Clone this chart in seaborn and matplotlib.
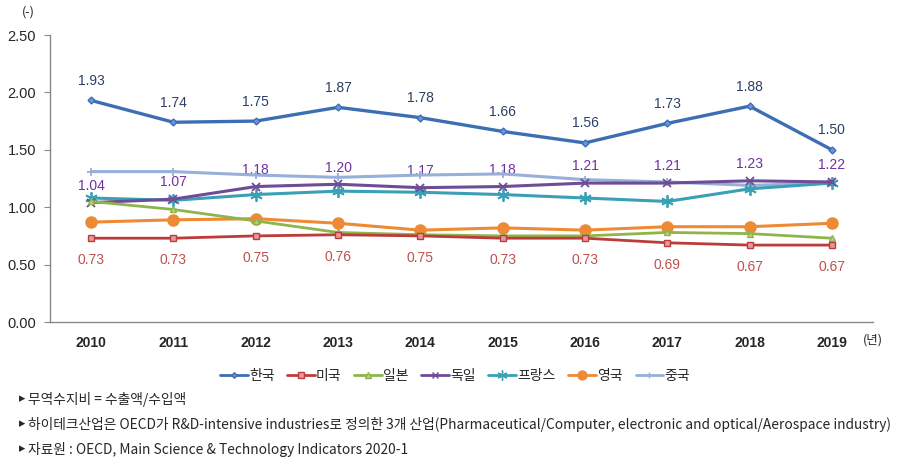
import matplotlib
matplotlib.use("Agg")
import matplotlib.pyplot as plt
import seaborn as sns
import pandas as pd
import numpy as np
from matplotlib.lines import Line2D

years = ["2010", "2011", "2012", "2013", "2014", "2015", "2016", "2017", "2018", "2019"]
korea = [1.93, 1.74, 1.75, 1.87, 1.78, 1.66, 1.56, 1.73, 1.88, 1.50]
usa = [0.73, 0.73, 0.75, 0.76, 0.75, 0.73, 0.73, 0.69, 0.67, 0.67]
japan = [1.05, 0.98, 0.88, 0.78, 0.76, 0.75, 0.75, 0.78, 0.77, 0.73]
germany = [1.04, 1.07, 1.18, 1.20, 1.17, 1.18, 1.21, 1.21, 1.23, 1.22]
france = [1.08, 1.06, 1.11, 1.14, 1.13, 1.11, 1.08, 1.05, 1.16, 1.21]
uk = [0.87, 0.89, 0.90, 0.86, 0.80, 0.82, 0.80, 0.83, 0.83, 0.86]
china = [1.31, 1.31, 1.28, 1.26, 1.28, 1.29, 1.24, 1.22, 1.19, 1.21]

names = ["한국", "미국", "일본", "독일", "프랑스", "영국", "중국"]
series = [korea, usa, japan, germany, france, uk, china]
yticks = [0.0, 0.5, 1.0, 1.5, 2.0, 2.5]

sns.set_style("white")
plt.rcParams['font.family'] = ['Noto Sans CJK KR', 'DejaVu Sans']

colors = ["#3C6EB4", "#BE3B3B", "#8DB54A", "#6E4C96", "#3AA0B5", "#EE8A33", "#96B0D8"]
markers = ["D", "s", "^", "x", (6, 2, 0), "o", "+"]
msizes = [3.5, 5, 5, 6, 9, 8, 6]
mfc = ["#6C98D8", "#E49A9A", "#B8D48A", "#6E4C96", "#3AA0B5", "#EE8A33", "#96B0D8"]
lws = [2.4, 2.0, 2.0, 2.2, 2.2, 2.2, 2.2]

rows = []
for n, s in zip(names, series):
    for i, v in enumerate(s):
        rows.append({"국가": n, "x": i, "값": v})
df = pd.DataFrame(rows)

fig = plt.figure(figsize=(9.08, 4.73), dpi=100)
ax = fig.add_axes([50/908, 1 - 322/473, (873-50)/908, (322-35)/473])

order_draw = [6, 5, 2, 1, 4, 3, 0]
for k in order_draw:
    sub = df[df["국가"] == names[k]]
    sns.lineplot(data=sub, x="x", y="값", ax=ax, color=colors[k], lw=lws[k],
                 marker=markers[k], markersize=msizes[k], markerfacecolor=mfc[k],
                 markeredgecolor=colors[k], markeredgewidth=1.0 if k not in (3, 4, 6) else 1.3,
                 label=names[k], legend=False, zorder=3 + (7 - k) * 0.01)

ax.set_xlim(-0.5, 9.5)
ax.set_ylim(0, 2.5)
ax.set_yticks(yticks)
ax.set_yticklabels([f"{v:.2f}" for v in yticks], fontsize=10.5, family=['Liberation Sans', 'DejaVu Sans'])
ax.set_xticks(range(len(years)))
ax.set_xticklabels(years, fontsize=10, fontweight='bold', family=['Liberation Sans', 'DejaVu Sans'])
ax.tick_params(axis='x', length=0, pad=10)
ax.tick_params(axis='y', length=4, direction='out', color="#888888", pad=6, left=True)
ax.set_xticks(np.arange(-0.5, 10, 1), minor=True)
ax.tick_params(axis='x', which='minor', length=5, direction='out', color="#888888")
for sp in ["top", "right"]:
    ax.spines[sp].set_visible(False)
for sp in ["left", "bottom"]:
    ax.spines[sp].set_color("#888888")
    ax.spines[sp].set_linewidth(1.0)
ax.set_xlabel("")
ax.set_ylabel("")

lab_font = ['Liberation Sans', 'DejaVu Sans']
for i, v in enumerate(korea):
    ax.annotate(f"{v:.2f}", (i, v), xytext=(0, 9), textcoords="offset points",
                ha="center", va="bottom", fontsize=10, color="#2A3F66", family=lab_font)
for i, v in enumerate(germany):
    ax.annotate(f"{v:.2f}", (i, v), xytext=(0, 7), textcoords="offset points",
                ha="center", va="bottom", fontsize=10, color="#7030A0", family=lab_font)
for i, v in enumerate(usa):
    ax.annotate(f"{v:.2f}", (i, v), xytext=(0, -11), textcoords="offset points",
                ha="center", va="top", fontsize=10, color="#C0504D", family=lab_font)

fig.text(28/908, 1 - 12/473, "(-)", fontsize=9, ha="center", va="center")
fig.text(873/908, 1 - 340/473, "(년)", fontsize=9, ha="center", va="center")

handles = []
for k in range(7):
    handles.append(Line2D([0], [0], color=colors[k], lw=2.0, marker=markers[k],
                          markersize=msizes[k] * 0.8, markerfacecolor=mfc[k],
                          markeredgecolor=colors[k]))
fig.legend(handles, names, loc="center", bbox_to_anchor=(455/908, 1 - 376/473), ncol=7,
           frameon=False, fontsize=10, handlelength=2.0, handletextpad=0.1, columnspacing=0.9)

notes = ["무역수지비 = 수출액/수입액",
         "하이테크산업은 OECD가 R&D-intensive industries로 정의한 3개 산업(Pharmaceutical/Computer, electronic and optical/Aerospace industry)",
         "자료원 : OECD, Main Science & Technology Indicators 2020-1"]
for j, t in enumerate(notes):
    y = 1 - (399 + 25 * j) / 473
    fig.text(22/908, y, "\u25B8", fontsize=9, ha="center", va="center", family=['DejaVu Sans'])
    fig.text(28/908, y, t, fontsize=9.9, ha="left", va="center")

fig.savefig("out.png", dpi=100)
